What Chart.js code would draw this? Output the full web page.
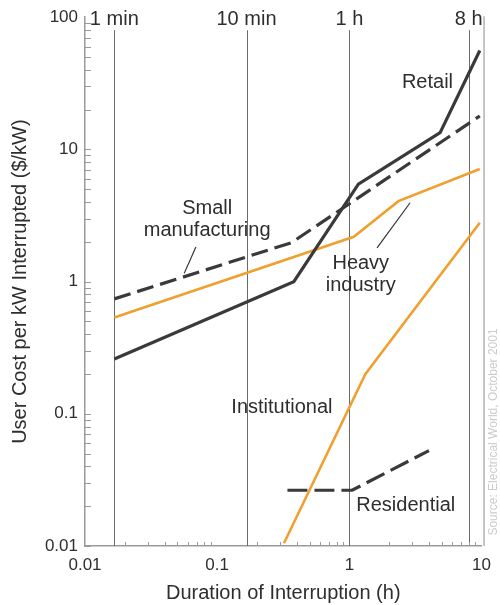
<!DOCTYPE html>
<html>
<head>
<meta charset="utf-8">
<script src="https://cdn.jsdelivr.net/npm/chart.js@4.4.1/dist/chart.umd.min.js"></script>
<style>
html, body { margin: 0; padding: 0; background: #fff; }
canvas { display: block; }
</style>
</head>
<body>
<canvas id="chart" width="500" height="605"></canvas>
<script>
// durations are in hours, costs in $/kW
const retailHours = [1/60, 0.38, 1.17, 4.86, 9.7];
const retailCost = [0.26, 1.0, 5.46, 13.4, 56];
const smallMfgHours = [1/60, 0.365, 9.7];
const smallMfgCost = [0.74, 1.97, 17.9];
const heavyHours = [1/60, 1.08, 2.35, 9.7];
const heavyCost = [0.536, 2.18, 4.06, 7.1];
const institutionalHours = [0.32, 1.32, 9.7];
const institutionalCost = [0.0105, 0.199, 2.79];
const residentialHours = [0.34, 1.05, 4.0];
const residentialCost = [0.0264, 0.0264, 0.0527];

const xTickValues = [0.01, 0.1, 1, 10];
const xTickLabels = ['0.01', '0.1', '1', '10'];
const yTickValues = [0.01, 0.1, 1, 10, 100];
const yTickLabels = ['0.01', '0.1', '1', '10', '100'];
const topTickHours = [1/60, 1/6, 1, 8];
const topTickLabels = ['1 min', '10 min', '1 h', '8 h'];

const DARK = '#3a3a3a';
const ORANGE = '#efa030';
const TEXT = '#2e2e2e';
const FONT = '"Liberation Sans", Arial, Helvetica, sans-serif';

// text annotations, placed in data coordinates
const seriesLabels = [
    { lines: ['Retail'], hour: 3.9, cost: 31.9 },
    { lines: ['Small', 'manufacturing'], hour: 0.084, cost: 2.95 },
    { lines: ['Heavy', 'industry'], hour: 1.22, cost: 1.13 },
    { lines: ['Institutional'], hour: 0.309, cost: 0.1115 },
    { lines: ['Residential'], hour: 2.67, cost: 0.0203 }
];
const leaderLines = [
    { from: [0.069, 1.83], to: [0.0563, 1.154] },
    { from: [2.88, 3.95], to: [1.62, 1.80] }
];

function points(xs, ys) {
    return xs.map((x, i) => ({ x, y: ys[i] }));
}

const decorations = {
    id: 'decorations',
    beforeDatasetsDraw(chart) {
        const { ctx, chartArea: a, scales: { x, y } } = chart;
        ctx.save();
        // reference lines for 1 min, 10 min, 1 h, 8 h
        ctx.strokeStyle = '#6a6a6a';
        ctx.lineWidth = 1;
        topTickHours.forEach(h => {
            const px = Math.round(x.getPixelForValue(h)) + 0.5;
            ctx.beginPath();
            ctx.moveTo(px, a.top + 13);
            ctx.lineTo(px, a.bottom);
            ctx.stroke();
        });
        // right frame line
        ctx.strokeStyle = '#8c8c8c';
        ctx.beginPath();
        ctx.moveTo(a.right + 2.5, a.top - 1);
        ctx.lineTo(a.right + 2.5, a.bottom);
        ctx.stroke();
        // inward minor ticks on both axes
        ctx.strokeStyle = '#9a9a9a';
        yTickValues.slice(0, -1).forEach(d => {
            for (let m = 1; m <= 9; m++) {
                const py = Math.round(y.getPixelForValue(d * m)) + 0.5;
                ctx.beginPath();
                ctx.moveTo(a.left, py);
                ctx.lineTo(a.left + 6, py);
                ctx.stroke();
            }
        });
        xTickValues.slice(0, -1).forEach(d => {
            for (let m = 2; m <= 9; m++) {
                const px = Math.round(x.getPixelForValue(d * m)) + 0.5;
                ctx.beginPath();
                ctx.moveTo(px, a.bottom);
                ctx.lineTo(px, a.bottom - 4);
                ctx.stroke();
            }
        });
        ctx.restore();
    },
    afterDatasetsDraw(chart) {
        const { ctx, scales: { x, y } } = chart;
        ctx.save();
        ctx.strokeStyle = '#333';
        ctx.lineWidth = 1.2;
        leaderLines.forEach(l => {
            ctx.beginPath();
            ctx.moveTo(x.getPixelForValue(l.from[0]), y.getPixelForValue(l.from[1]));
            ctx.lineTo(x.getPixelForValue(l.to[0]), y.getPixelForValue(l.to[1]));
            ctx.stroke();
        });
        ctx.fillStyle = TEXT;
        ctx.font = '20px ' + FONT;
        ctx.textAlign = 'center';
        ctx.textBaseline = 'middle';
        seriesLabels.forEach(lab => {
            const cx = x.getPixelForValue(lab.hour);
            const cy = y.getPixelForValue(lab.cost);
            lab.lines.forEach((t, i) => {
                ctx.fillText(t, cx, cy + (i - (lab.lines.length - 1) / 2) * 22);
            });
        });
        // faint source credit along the right edge
        ctx.translate(494, 432);
        ctx.rotate(-Math.PI / 2);
        ctx.fillStyle = 'rgba(140,140,140,0.45)';
        ctx.font = '12px ' + FONT;
        ctx.fillText('Source: Electrical World, October 2001', 0, 0);
        ctx.restore();
    }
};

Chart.defaults.font.family = FONT;

new Chart(document.getElementById('chart'), {
    type: 'scatter',
    data: {
        datasets: [
            { label: 'Retail', data: points(retailHours, retailCost), borderColor: DARK, borderWidth: 3.2 },
            { label: 'Small manufacturing', data: points(smallMfgHours, smallMfgCost), borderColor: DARK, borderWidth: 3.2, borderDash: [17, 7] },
            { label: 'Heavy industry', data: points(heavyHours, heavyCost), borderColor: ORANGE, borderWidth: 2.6 },
            { label: 'Institutional', data: points(institutionalHours, institutionalCost), borderColor: ORANGE, borderWidth: 2.6 },
            { label: 'Residential', data: points(residentialHours, residentialCost), borderColor: DARK, borderWidth: 3.2, borderDash: [20, 7] }
        ].map(d => Object.assign({ showLine: true, pointRadius: 0, fill: false, tension: 0 }, d))
    },
    options: {
        responsive: false,
        animation: false,
        layout: { padding: { top: 0, right: 16, bottom: 0, left: 0 } },
        plugins: { legend: { display: false }, tooltip: { enabled: false } },
        scales: {
            x: {
                type: 'logarithmic',
                position: 'bottom',
                min: 0.01,
                max: 10,
                afterBuildTicks: s => { s.ticks = xTickValues.map(v => ({ value: v })); },
                afterFit: s => { s.height = 59; },
                ticks: { autoSkip: false, maxRotation: 0, padding: 9, color: TEXT, font: { size: 17 },
                    callback: (v, i) => xTickLabels[i] },
                grid: { display: false, drawTicks: false },
                border: { display: true, color: '#9a9a9a', width: 1.5 },
                title: { display: true, text: 'Duration of Interruption (h)', color: TEXT,
                    font: { size: 20 }, padding: { top: 0, bottom: 0 } }
            },
            x2: {
                type: 'logarithmic',
                position: 'top',
                min: 0.01,
                max: 10,
                afterBuildTicks: s => { s.ticks = topTickHours.map(v => ({ value: v })); },
                afterFit: s => { s.height = 14; },
                ticks: { autoSkip: false, maxRotation: 0, mirror: true, padding: -10, color: TEXT,
                    font: { size: 20 }, callback: (v, i) => topTickLabels[i] },
                grid: { display: false, drawTicks: false },
                border: { display: false }
            },
            y: {
                type: 'logarithmic',
                position: 'left',
                min: 0.01,
                max: 100,
                afterBuildTicks: s => { s.ticks = yTickValues.map(v => ({ value: v })); },
                afterFit: s => { s.width = 85; },
                ticks: { autoSkip: false, padding: 7, color: TEXT, font: { size: 17 },
                    callback: (v, i) => yTickLabels[i] },
                grid: { display: false, drawTicks: false },
                border: { display: true, color: '#9a9a9a', width: 1.5 },
                title: { display: true, text: 'User Cost per kW Interrupted ($/kW)', color: TEXT,
                    font: { size: 20 }, padding: { top: 8, bottom: 0 } }
            }
        }
    },
    plugins: [decorations]
});
</script>
</body>
</html>
